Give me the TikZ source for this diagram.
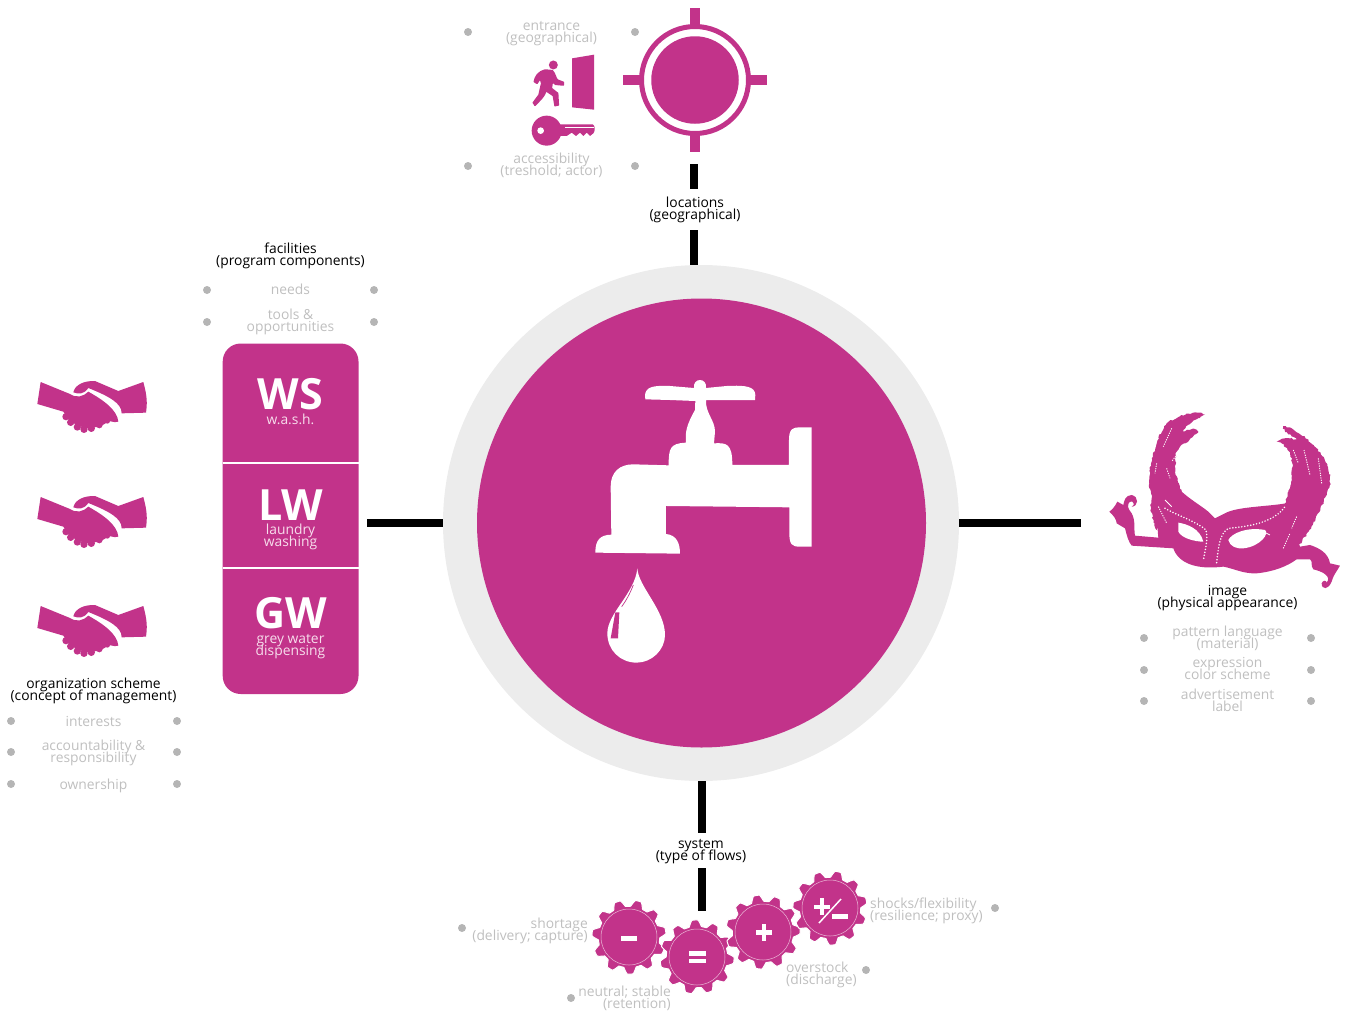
\documentclass[tikz,border=0pt]{standalone}
\usepackage{fontspec}
\setmainfont{Open Sans}
\usetikzlibrary{calc,decorations.pathmorphing}
\definecolor{mag}{HTML}{C2338A}
\definecolor{ringgray}{HTML}{ECECEC}
\definecolor{soft}{HTML}{BFBFBF}
\definecolor{dotgray}{HTML}{B5B5B5}
\definecolor{pale}{HTML}{F7DDEC}
\newcommand{\tightfont}{\fontsize{13.85}{12}\selectfont\lineskiplimit=-30pt\relax}
\tikzset{
 lab/.style={inner sep=0,align=center,font=\tightfont,text=black},
 sub/.style={inner sep=0,align=center,font=\tightfont,text=soft},
 subl/.style={sub,align=left,anchor=west},
 subr/.style={sub,align=right,anchor=east},
 bar/.style={line width=8pt,black},
 dotm/.style={circle,fill=dotgray,inner sep=0,minimum size=8pt},
 big/.style={inner sep=0,text=white,font=\fontsize{43}{43}\selectfont\bfseries},
 small/.style={inner sep=0,align=center,text=pale,font=\tightfont},
 feather/.style={fill=mag,decorate,decoration={random steps,segment length=2pt,amplitude=.9pt}},
 hatch/.style={white,line width=.9pt,dash pattern=on 1.2pt off 1.2pt},
 pearl/.style={white,line width=1.7pt,line cap=round,dash pattern=on 0pt off 3pt},
}
\newcommand{\gearat}[2]{%
 \begin{scope}[shift={(#1)}]
 \fill[mag,draw=white,line width=1pt] plot[smooth cycle,samples=220,domain=0:358.36] (\x+#2:{33.9+3.2*max(min(1.6*cos(11*\x),1),-1)});
 \draw[white!65!mag,line width=.5pt] (0,0) circle (28);
 \end{scope}}
\newcommand{\handshake}[1]{%
 \begin{scope}[shift={(20,#1)},x=.3333pt,y=-.3333pt]
 \fill[mag] (62,66) -- (150,102) .. controls (170,115) and (190,110) .. (205,95) .. controls (250,120) and (292,150) .. (295,185) .. controls (280,190) and (270,180) .. (265,185) -- (240,200) -- (195,205) -- (150,185) -- (130,155) -- (52,132) -- cycle;
 \foreach \fx/\fy/\fr in {138/170/11,152/187/11,172/201/11,192/208/11,214/205/11,238/195/10,262/183/8}
   \fill[mag] (\fx,\fy) circle (\fr);
 \fill[mag] (160,97) .. controls (165,75) and (190,62) .. (225,63) -- (295,93) -- (370,66) .. controls (382,110) and (382,130) .. (378,158) -- (305,160) .. controls (305,130) and (270,110) .. (205,84) .. controls (190,105) and (175,102) .. (160,97) -- cycle;
 \end{scope}}
\begin{document}
\begin{tikzpicture}[x=1pt,y=-1pt]
\useasboundingbox (0,0) rectangle (1346,1017);
% hub
\node[circle,fill=ringgray,inner sep=0,minimum size=516pt] (ring) at (701,523) {};
\node[circle,fill=mag,inner sep=0,minimum size=449pt] (hub) at (701.5,523) {};
% tap
\begin{scope}[shift={(570,360)},x=.3333pt,y=-.3333pt]
\fill[white] (225,105) .. controls (228,80) and (250,76) .. (300,78) -- (372,84) .. controls (368,52) and (412,52) .. (408,84) -- (470,78) .. controls (530,75) and (555,80) .. (556,105) -- (555,120) -- (408,120) .. controls (406,160) and (435,180) .. (435,215) -- (432,250) .. controls (470,248) and (487,250) .. (487,315) -- (657,315) -- (657,240) .. controls (657,205) and (670,202) .. (690,202) -- (725,202) -- (725,560) -- (690,560) .. controls (665,560) and (657,555) .. (658,510) -- (658,442) -- (288,438) -- (288,522) .. controls (320,525) and (330,550) .. (330,581) -- (76,578) .. controls (76,540) and (90,525) .. (124,524) -- (122,380) .. controls (122,335) and (150,313) .. (190,313) -- (296,316) .. controls (296,265) and (300,250) .. (348,248) .. controls (345,215) and (350,195) .. (375,150) -- (376,123) -- (300,120) -- (226,118) -- cycle;
\fill[white] (202,625) .. controls (205,680) and (285,750) .. (285,825) .. controls (285,870) and (245,908) .. (200,908) .. controls (150,908) and (112,870) .. (112,820) .. controls (112,760) and (195,700) .. (202,625) -- cycle;
\fill[mag] (136,757) -- (148,757) -- (144,835) -- (122,835) -- cycle;
\draw[mag,line width=.7pt] (190,675) .. controls (180,700) and (170,720) .. (155,740);
\end{scope}
% bars
\coordinate (tbarA) at (694,164); \coordinate (tbarB) at (694,189);
\coordinate (tbarC) at (694,230); \coordinate (tbarD) at (694,265);
\coordinate (lbarA) at (367,523); \coordinate (lbarB) at (443,523);
\coordinate (rbarA) at (959,523); \coordinate (rbarB) at (1081,523);
\coordinate (bbarA) at (702,781); \coordinate (bbarB) at (702,833);
\coordinate (bbarC) at (702,868); \coordinate (bbarD) at (702,911);
\foreach \a/\b in {tbarA/tbarB,tbarC/tbarD,lbarA/lbarB,rbarA/rbarB,bbarA/bbarB,bbarC/bbarD}
  \draw[bar] (\a) -- (\b);
% target
\draw[mag,line width=5pt] (695,80) circle (53.5);
\node[circle,fill=mag,inner sep=0,minimum size=87.5pt] (target) at (695,80) {};
\foreach \a/\b/\c/\d in {695/8/695/27,695/133/695/152,623/80/642/80,748/80/767/80}
  \draw[mag,line width=10pt] (\a,\b) -- (\c,\d);
% door, person, key
\begin{scope}[shift={(525,50)},x=.3333pt,y=-.3333pt]
\fill[mag] (141,25) -- (207,14) -- (207,179) -- (141,172) -- cycle;
\fill[mag] (85,45) circle (13.5);
\fill[mag,draw=mag,line width=1.5pt,line join=round] (60,60) -- (82,62) .. controls (90,70) and (92,85) .. (97,90) -- (115,97) -- (115,105) -- (92,103) -- (82,95) -- (79,115) -- (98,130) -- (100,165) -- (90,167) -- (85,137) -- (63,122) .. controls (58,140) and (45,150) .. (30,166) -- (25,158) -- (42,135) -- (50,100) -- (46,85) -- (36,100) -- (28,95) .. controls (30,80) and (40,65) .. (60,60) -- cycle;
\end{scope}
\begin{scope}[shift={(450,0)},x=.3333pt,y=-.3333pt]
\fill[mag] (290,392) circle (45);
\fill[mag] (320,373) -- (428,373) .. controls (436,375) and (436,395) .. (430,400) -- (420,408) -- (410,398) -- (400,408) -- (390,398) -- (378,408) -- (365,398) -- (350,408) -- (320,408) -- cycle;
\draw[white,line width=.7pt] (345,383) -- (432,383);
\fill[white] (272,392) circle (10);
\end{scope}
% top labels
\node[sub] (entrance) at (551.5,33.5) {entrance\\(geographical)};
\node[sub] (access) at (551.5,165) {accessibility\\(treshold; actor)};
\node[lab] (locations) at (695,209.5) {locations\\(geographical)};
\foreach \n/\x/\y in {t1/468/32,t2/635/32,t3/468/166,t4/635/166,f1/207/290,f2/374/290,f3/207/322,f4/374/322,o1/11/721,o2/177/721,o3/11/752,o4/177/752,o5/11/784,o6/177/784,i1/1144/638,i2/1311/638,i3/1144/670,i4/1311/670,i5/1144/701,i6/1311/701,b1/462/928,b2/571/998,b3/866/970,b4/995/908}
  \node[dotm] (\n) at (\x,\y) {};
% facilities
\node[lab] (facil) at (290.5,255.5) {facilities\\(program components)};
\node[sub] (needs) at (290.5,289) {needs};
\node[sub] (tools) at (290.5,321.5) {tools \&\\opportunities};
\fill[mag,rounded corners=18pt] (222.7,343.5) rectangle (358.5,694);
\draw[white,line width=2pt] (222.7,463) -- (358.5,463);
\draw[white,line width=2pt] (222.7,567.5) -- (358.5,567.5);
\node[big] (ws) at (290.5,394) {WS};
\node[small] (wash) at (290.5,419.5) {w.a.s.h.};
\node[big] (lw) at (290.5,505) {LW};
\node[small] (laundry) at (290.5,536.5) {laundry\\washing};
\node[big] (gw) at (290.5,613) {GW};
\node[small] (grey) at (290.5,646.5) {grey water\\dispensing};
% handshakes
\handshake{360}
\handshake{475}
\handshake{584}
% org
\node[lab] (org) at (93.5,690.5) {organization scheme\\(concept of management)};
\node[sub] (interests) at (93.5,721) {interests};
\node[sub] (acc) at (93.5,752.5) {accountability \&\\responsibility};
\node[sub] (own) at (93.5,785.5) {ownership};
% mask
\begin{scope}[shift={(1100,400)},x=.3333pt,y=-.3333pt]
% left feather
\path[feather] (315,43) .. controls (280,32) and (235,45) .. (200,70) .. controls (175,100) and (165,145) .. (155,185) .. controls (148,220) and (143,240) .. (155,295) .. controls (148,325) and (155,350) .. (170,390) -- (240,330) -- (245,275) .. controls (225,240) and (222,190) .. (230,155) .. controls (240,135) and (280,115) .. (295,95) .. controls (285,85) and (270,85) .. (250,95) .. controls (260,75) and (290,55) .. (315,43) -- cycle;
% right feather
\path[feather] (550,78) .. controls (590,85) and (640,130) .. (670,170) .. controls (695,220) and (695,250) .. (680,280) .. controls (660,340) and (625,400) .. (590,445) -- (530,430) -- (555,310) .. controls (565,280) and (575,250) .. (578,200) .. controls (575,160) and (560,135) .. (530,125) .. controls (545,112) and (570,115) .. (590,118) .. controls (570,105) and (550,95) .. (550,78) -- cycle;
% body and ribbons
\fill[mag] (165,300) -- (240,270) .. controls (265,295) and (300,315) .. (325,335) -- (345,355) -- (375,340) .. controls (410,320) and (500,320) .. (558,310) -- (600,440) -- (630,435) .. controls (660,445) and (685,460) .. (690,490) -- (720,497) .. controls (710,515) and (700,525) .. (695,545) .. controls (685,570) and (665,570) .. (665,550) .. controls (668,540) and (680,540) .. (680,548) .. controls (695,530) and (670,515) .. (640,508) .. controls (630,495) and (640,485) .. (630,478) -- (590,478) .. controls (560,500) and (520,515) .. (470,520) .. controls (430,522) and (400,505) .. (370,500) .. controls (290,510) and (235,490) .. (220,445) -- (95,437) .. controls (85,425) and (80,405) .. (75,385) -- (50,370) .. controls (50,360) and (40,345) .. (28,335) .. controls (35,330) and (45,320) .. (52,305) -- (70,315) .. controls (72,305) and (75,285) .. (95,285) .. controls (118,290) and (115,320) .. (95,320) .. controls (100,320) and (105,312) .. (97,305) .. controls (85,300) and (80,320) .. (88,330) .. controls (110,355) and (100,385) .. (105,407) -- (175,413) -- cycle;
% eyes
\fill[white] (235,368) .. controls (260,372) and (300,385) .. (310,425) .. controls (285,425) and (245,415) .. (235,395) -- cycle;
\fill[white] (385,420) .. controls (395,400) and (440,380) .. (495,390) .. controls (510,400) and (480,440) .. (430,445) .. controls (410,447) and (390,440) .. (385,420) -- cycle;
% pearls
\draw[pearl] (195,325) .. controls (240,350) and (290,365) .. (318,390) .. controls (325,420) and (315,450) .. (310,482);
\draw[pearl] (350,488) .. controls (355,440) and (360,400) .. (385,385) .. controls (440,380) and (520,370) .. (555,320);
% hatching
\draw[hatch] (215,85) -- (190,140) (240,150) -- (215,185) (612,150) -- (630,225) (655,175) -- (665,250) (580,150) -- (595,190) (175,320) -- (200,370) (550,445) -- (570,400) (590,350) -- (575,385) (170,190) -- (165,220) (200,205) -- (210,235);
\draw[white,line width=.8pt] (332,325) -- (345,345) -- (358,325) (345,345) -- (345,330) (195,300) -- (215,320) (490,395) -- (510,405);
\end{scope}
\node[lab] (image) at (1227.5,598.5) {image\\(physical appearance)};
\node[sub] (pattern) at (1227.5,638.5) {pattern language\\(material)};
\node[sub] (expr) at (1227.5,668.5) {expression\\color scheme};
\node[sub] (advert) at (1227.5,700.5) {advertisement\\label};
% system
\node[lab] (system) at (701,851.5) {system\\(type of flows)};
\gearat{629,937}{-10}
\gearat{697,957}{5}
\gearat{763,932}{-2}
\gearat{830,908}{-12}
\fill[white] (621,935.5) rectangle (637,941);
\fill[white] (689,951) rectangle (706,955.5);
\fill[white] (689,958.5) rectangle (706,963);
\fill[white] (755.5,930) rectangle (772,934.5);
\fill[white] (761.5,924) rectangle (766,941);
\fill[white] (813.5,904.5) rectangle (830,909);
\fill[white] (819.5,898) rectangle (824,915);
\fill[white] (832,914) rectangle (848,919);
\draw[white,line width=1.5pt] (819,923) -- (841,899);
\node[subr] (short) at (588,930.5) {shortage\\(delivery; capture)};
\node[subr] (neutral) at (671,998.5) {neutral; stable\\(retention)};
\node[subl] (over) at (786,974.5) {overstock\\(discharge)};
\node[subl] (shocks) at (870,910.5) {shocks/flexibility\\(resilience; proxy)};
\end{tikzpicture}
\end{document}
